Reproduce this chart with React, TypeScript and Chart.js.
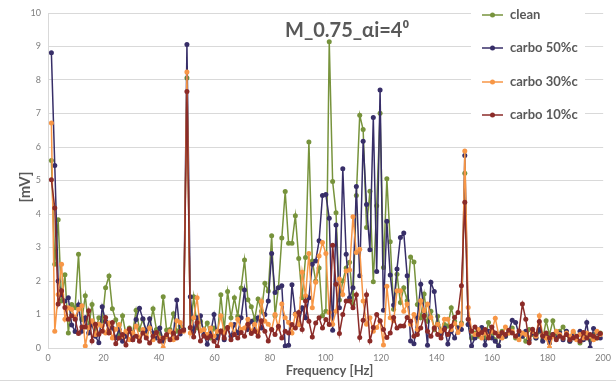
import React, { useEffect, useRef } from "react";
import { Chart, registerables } from "chart.js";

Chart.register(...registerables);

// Frequency bins (Hz)
const FREQUENCIES_HZ = [
  1.22, 2.44, 3.66, 4.88, 6.1, 7.32, 8.54, 9.77, 10.99, 12.21,
  13.43, 14.65, 15.87, 17.09, 18.31, 19.53, 20.75, 21.97, 23.19, 24.41,
  25.63, 26.86, 28.08, 29.3, 30.52, 31.74, 32.96, 34.18, 35.4, 36.62,
  37.84, 39.06, 40.28, 41.5, 42.72, 43.95, 45.17, 46.39, 47.61, 48.83,
  50.05, 51.27, 52.49, 53.71, 54.93, 56.15, 57.37, 58.59, 59.81, 61.04,
  62.26, 63.48, 64.7, 65.92, 67.14, 68.36, 69.58, 70.8, 72.02, 73.24,
  74.46, 75.68, 76.9, 78.13, 79.35, 80.57, 81.79, 83.01, 84.23, 85.45,
  86.67, 87.89, 89.11, 90.33, 91.55, 92.77, 93.99, 95.21, 96.44, 97.66,
  98.88, 100.1, 101.32, 102.54, 103.76, 104.98, 106.2, 107.42, 108.64, 109.86,
  111.08, 112.3, 113.53, 114.75, 115.97, 117.19, 118.41, 119.63, 120.85, 122.07,
  123.29, 124.51, 125.73, 126.95, 128.17, 129.39, 130.62, 131.84, 133.06, 134.28,
  135.5, 136.72, 137.94, 139.16, 140.38, 141.6, 142.82, 144.04, 145.26, 146.48,
  147.71, 148.93, 150.15, 151.37, 152.59, 153.81, 155.03, 156.25, 157.47, 158.69,
  159.91, 161.13, 162.35, 163.57, 164.79, 166.02, 167.24, 168.46, 169.68, 170.9,
  172.12, 173.34, 174.56, 175.78, 177.0, 178.22, 179.44, 180.66, 181.88, 183.11,
  184.33, 185.55, 186.77, 187.99, 189.21, 190.43, 191.65, 192.87, 194.09, 195.31,
  196.53, 197.75, 198.97,
];

// [mV]
const CLEAN = [
  5.6, 2.5, 3.83, 1.4, 2.19, 0.45, 1.3, 1.2, 2.8, 0.85,
  1.56, 0.6, 1.3, 0.5, 0.9, 0.8, 1.8, 2.15, 1.17, 0.84,
  0.4, 0.96, 0.4, 0.6, 0.45, 1.13, 0.55, 0.85, 0.45, 0.6,
  1.17, 0.55, 0.4, 1.53, 0.54, 0.55, 1.02, 0.5, 0.66, 0.55,
  8.06, 0.6, 1.53, 0.6, 0.8, 0.55, 0.75, 0.3, 0.6, 0.35,
  1.59, 0.55, 1.69, 0.9, 1.5, 0.95, 1.79, 2.63, 1.44, 1.23,
  0.85, 1.46, 1.1, 1.93, 1.7, 3.35, 0.96, 1.8, 3.28, 4.67,
  3.13, 3.13, 3.95, 2.67, 1.5, 2.7, 6.15, 2.6, 2.0, 2.39,
  0.96, 1.1, 9.14, 4.97, 4.04, 1.43, 2.0, 2.39, 2.56, 1.3,
  4.55, 6.95, 6.52, 3.6, 4.68, 1.98, 4.25, 7.01, 2.4, 5.05,
  3.17, 1.16, 2.2, 1.36, 1.8, 1.41, 2.72, 2.57, 1.3, 0.9,
  1.61, 0.8, 1.1, 0.55, 0.95, 0.5, 0.7, 0.65, 1.2, 0.8,
  0.6, 0.75, 5.22, 0.7, 0.3, 0.45, 0.35, 0.5, 0.3, 0.76,
  0.45, 0.25, 0.06, 0.5, 0.35, 0.45, 0.6, 0.3, 0.4, 0.35,
  0.2, 0.55, 0.4, 0.3, 0.5, 0.25, 0.81, 0.4, 0.81, 0.35,
  0.5, 0.63, 0.4, 0.2, 0.45, 0.3, 0.15, 0.4, 0.35, 0.25,
  0.4, 0.3, 0.45,
];

const CARBO_50 = [
  8.81, 5.45, 2.0, 1.6, 1.4, 1.5, 0.69, 0.49, 1.29, 0.5,
  0.9, 0.45, 0.7, 0.35, 0.16, 1.23, 0.8, 0.5, 0.6, 0.3,
  0.55, 0.2, 0.35, 0.5, 0.25, 0.85, 1.19, 0.87, 0.5, 0.87,
  0.45, 0.3, 0.6, 0.2, 0.35, 0.5, 0.4, 1.43, 0.42, 0.55,
  9.06, 1.53, 0.5, 0.9, 0.96, 0.4, 0.11, 0.45, 1.0, 0.3,
  0.5, 0.25, 0.6, 0.35, 0.7, 0.45, 0.9, 1.73, 0.55, 0.8,
  0.55, 0.9, 0.6, 1.0, 1.4, 2.82, 1.66, 1.8, 1.86, 0.06,
  0.08, 1.89, 1.02, 0.7, 1.2, 0.9, 1.5, 2.5, 2.6, 3.2,
  4.55, 4.58, 3.87, 0.53, 3.67, 1.2, 5.35, 2.8, 1.5, 1.8,
  4.82, 2.16, 6.17, 4.28, 2.93, 6.88, 2.28, 7.7, 1.13, 3.78,
  2.18, 1.28, 2.36, 3.3, 3.43, 2.16, 0.21, 0.13, 0.9, 1.9,
  1.1, 0.08, 1.96, 1.69, 0.7, 0.4, 0.6, 0.12, 0.5, 0.3,
  0.6, 0.55, 5.75, 0.7, 0.06, 0.3, 0.45, 0.61, 0.09, 0.5,
  0.3, 0.2, 0.06, 0.4, 0.35, 0.5, 0.83, 0.76, 0.4, 0.35,
  0.5, 0.25, 0.45, 0.3, 0.55, 0.2, 0.35, 0.15, 0.4, 0.3,
  0.45, 0.25, 0.5, 0.2, 0.35, 0.3, 0.5, 0.25, 0.76, 0.01,
  0.58, 0.46, 0.3,
];

const CARBO_30 = [
  6.72, 0.5, 1.6, 2.5, 0.86, 1.2, 1.16, 0.9, 1.16, 1.26,
  0.06, 0.61, 0.81, 0.4, 0.71, 0.66, 0.45, 0.75, 0.3, 0.56,
  0.7, 0.35, 0.5, 0.25, 0.45, 0.66, 0.3, 0.55, 0.35, 0.6,
  0.25, 0.45, 0.3, 0.01, 0.35, 0.5, 0.25, 0.81, 0.76, 0.5,
  8.24, 0.45, 0.9, 1.5, 0.51, 0.55, 0.4, 0.6, 0.35, 0.5,
  0.96, 0.45, 0.6, 0.7, 0.4, 0.86, 0.55, 0.6, 0.86, 0.5,
  0.71, 0.45, 1.39, 0.8, 0.71, 0.55, 1.0, 0.6, 1.31, 0.9,
  0.76, 0.45, 1.01, 0.7, 2.26, 1.56, 2.82, 1.2, 1.96, 2.75,
  3.15, 2.82, 1.06, 0.71, 1.1, 2.06, 1.6, 2.3, 2.33, 3.92,
  2.85, 2.95, 1.4, 0.71, 0.9, 0.5, 0.61, 0.8, 0.09, 1.84,
  0.9, 0.81, 1.71, 1.71, 1.1, 1.31, 0.71, 1.0, 0.55, 1.41,
  1.11, 1.31, 0.91, 0.6, 0.71, 0.5, 0.86, 0.86, 0.55, 0.73,
  0.46, 0.7, 5.88, 1.21, 0.51, 0.4, 0.55, 0.3, 0.45, 0.35,
  0.5, 0.89, 0.4, 0.3, 0.63, 0.45, 0.5, 0.35, 0.25, 0.45,
  0.4, 0.3, 0.5, 0.35, 0.96, 0.4, 0.3, 0.01, 0.35, 0.5,
  0.4, 0.3, 0.45, 0.35, 0.5, 0.25, 0.4, 0.3, 0.45, 0.35,
  0.25, 0.5, 0.4,
];

const CARBO_10 = [
  5.02, 4.18, 1.31, 1.71, 1.21, 0.86, 0.96, 0.86, 0.43, 0.63,
  0.63, 1.11, 0.21, 0.71, 0.41, 0.5, 0.91, 0.45, 0.76, 0.13,
  0.3, 0.4, 0.09, 0.57, 0.25, 0.35, 0.2, 0.45, 0.3, 0.15,
  0.35, 0.46, 0.2, 0.3, 0.4, 0.25, 0.45, 0.3, 0.49, 0.53,
  7.66, 0.61, 0.33, 0.76, 0.21, 0.36, 0.3, 0.36, 0.2, 0.04,
  0.51, 0.3, 0.61, 0.25, 0.4, 0.3, 0.46, 0.35, 0.71, 0.43,
  0.5, 0.35, 0.81, 0.5, 0.21, 0.55, 0.4, 0.65, 0.3, 0.5,
  0.45, 0.7, 0.6, 1.06, 0.55, 1.4, 0.8, 0.33, 0.75, 0.9,
  0.6, 0.85, 0.7, 3.07, 1.9, 0.43, 1.0, 1.4, 1.4, 1.2,
  1.59, 0.31, 0.83, 1.59, 0.21, 0.61, 1.0, 0.81, 0.55, 0.31,
  0.45, 0.91, 0.6, 0.66, 0.66, 0.91, 0.8, 0.35, 0.4, 0.6,
  0.96, 0.5, 0.35, 0.6, 0.4, 0.3, 0.55, 0.4, 0.65, 0.91,
  1.06, 1.86, 4.35, 0.86, 0.5, 0.63, 0.4, 0.46, 0.55, 0.3,
  0.63, 0.45, 0.35, 0.46, 0.4, 0.53, 0.45, 0.35, 0.51, 1.31,
  0.86, 0.16, 0.56, 0.4, 0.79, 0.35, 0.45, 0.3, 0.4, 0.25,
  0.35, 0.3, 0.4, 0.25, 0.3, 0.35, 0.2, 0.46, 0.3, 0.4,
  0.35, 0.3, 0.43,
];

const SERIES_NAMES = ["clean", "carbo 50%c", "carbo 30%c", "carbo 10%c"];
const SERIES_VALUES = [CLEAN, CARBO_50, CARBO_30, CARBO_10];
const SERIES_COLORS = ["#77933c", "#372e68", "#f79646", "#8b2b28"];
const X_MIN = 0;
const X_MAX = 200;
const X_STEP = 20;
const Y_MIN = 0;
const Y_MAX = 10;
const Y_STEP = 1;
const TITLE = "M_0.75_\u03b1i=4\u2070";
const X_TITLE = "Frequency [Hz]";
const Y_TITLE = "[mV]";

const FONT = "Lato, 'Liberation Sans', sans-serif";
const TEXT_COLOR = "#595959";

const overlayPlugin = {
  id: "overlay",
  afterDraw(chart: any) {
    const ctx = chart.ctx;
    const area = chart.chartArea;
    ctx.save();
    // chart title inside the plot
    ctx.fillStyle = TEXT_COLOR;
    ctx.font = `bold 20px ${FONT}`;
    ctx.textAlign = "left";
    ctx.textBaseline = "alphabetic";
    ctx.fillText(TITLE, 285, 37);

    // axis titles
    ctx.font = `bold 13px ${FONT}`;
    ctx.textAlign = "center";
    ctx.textBaseline = "middle";
    ctx.fillText(X_TITLE, (area.left + area.right) / 2 + 4, 371);
    ctx.save();
    ctx.translate(25, 187);
    ctx.rotate(-Math.PI / 2);
    ctx.font = `bold 15px ${FONT}`;
    ctx.fillText(Y_TITLE, 0, 0);
    ctx.restore();

    // legend with white background
    ctx.fillStyle = "#ffffff";
    ctx.fillRect(471, 4, 114, 122);
    const rowYs = [15, 48, 82, 115];
    SERIES_NAMES.forEach((name, i) => {
      const y = rowYs[i];
      ctx.strokeStyle = SERIES_COLORS[i];
      ctx.lineWidth = 1.5;
      ctx.beginPath();
      ctx.moveTo(482, y);
      ctx.lineTo(503, y);
      ctx.stroke();
      ctx.fillStyle = SERIES_COLORS[i];
      ctx.beginPath();
      ctx.arc(492.5, y, 2.5, 0, Math.PI * 2);
      ctx.fill();
      ctx.fillStyle = TEXT_COLOR;
      ctx.font = `bold 13px ${FONT}`;
      ctx.textAlign = "left";
      ctx.textBaseline = "middle";
      ctx.fillText(name, 510, y);
    });

    // outer frame bottom line
    ctx.strokeStyle = "#d9d9d9";
    ctx.lineWidth = 1;
    ctx.beginPath();
    ctx.moveTo(0, 380.5);
    ctx.lineTo(616, 380.5);
    ctx.stroke();
    ctx.restore();
  },
};

export default function App() {
  const canvasRef = useRef<HTMLCanvasElement | null>(null);

  useEffect(() => {
    if (!canvasRef.current) return;
    const datasets = SERIES_NAMES.map((name, i) => ({
      label: name,
      data: FREQUENCIES_HZ.map((f, j) => ({ x: f, y: SERIES_VALUES[i][j] })),
      borderColor: SERIES_COLORS[i],
      backgroundColor: SERIES_COLORS[i],
      pointBackgroundColor: SERIES_COLORS[i],
      pointBorderWidth: 0,
      pointRadius: 2.5,
      borderWidth: 1.5,
      tension: 0,
      order: SERIES_NAMES.length - 1 - i,
    }));

    const chart = new Chart(canvasRef.current, {
      type: "line",
      data: { datasets },
      options: {
        animation: false,
        responsive: false,
        devicePixelRatio: 1,
        events: [],
        layout: { padding: { left: 0, right: 10, top: 13, bottom: 0 } },
        plugins: {
          legend: { display: false },
          tooltip: { enabled: false },
          title: { display: false },
        },
        scales: {
          x: {
            type: "linear",
            min: X_MIN,
            max: X_MAX,
            ticks: {
              stepSize: X_STEP,
              color: "#7f7f7f",
              font: { family: FONT, size: 9 },
              padding: 5,
              maxRotation: 0,
            },
            grid: { display: false, drawTicks: false },
            border: { display: true, color: "#d9d9d9" },
            afterFit: (scale: any) => {
              scale.height = 35;
            },
          },
          y: {
            min: Y_MIN,
            max: Y_MAX,
            ticks: {
              stepSize: Y_STEP,
              color: "#7f7f7f",
              font: { family: FONT, size: 9 },
              padding: 7,
            },
            grid: { color: "#d9d9d9", drawTicks: false },
            border: { display: true, color: "#d9d9d9" },
            afterFit: (scale: any) => {
              scale.width = 48;
            },
          },
        },
      },
      plugins: [overlayPlugin],
    } as any);
    return () => chart.destroy();
  }, []);

  return (
    <div style={{ position: "fixed", left: 0, top: 0, width: 616, height: 383, background: "#fff" }}>
      <canvas ref={canvasRef} width={616} height={383} />
    </div>
  );
}
